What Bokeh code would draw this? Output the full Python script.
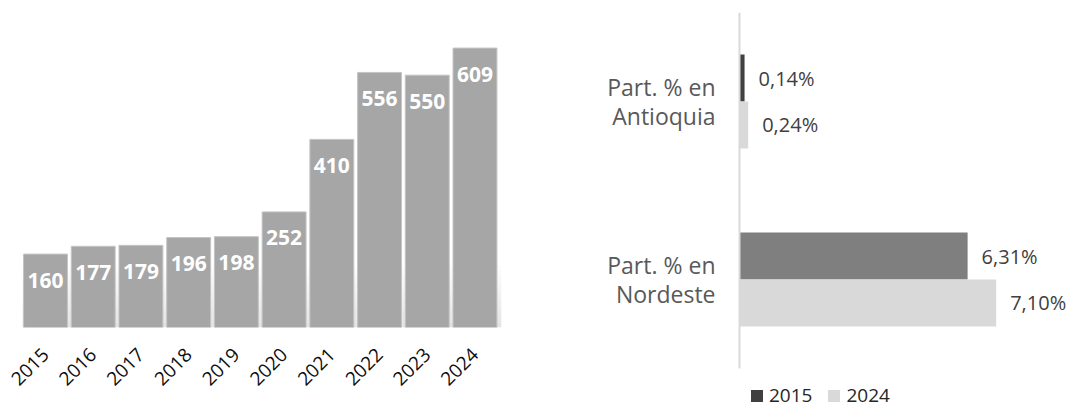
import math
from bokeh.plotting import figure
from bokeh.layouts import row
from bokeh.models import ColumnDataSource, FixedTicker, Range1d, Legend, LegendItem
from bokeh.core.properties import value
from bokeh.embed import file_html
from bokeh.resources import INLINE

# ---------------- data ----------------
years = ["2015", "2016", "2017", "2018", "2019", "2020", "2021", "2022", "2023", "2024"]
counts = [160, 177, 179, 196, 198, 252, 410, 556, 550, 609]

share_cats = ["Part. % en\nAntioquia", "Part. % en\nNordeste"]
share_2015 = [0.14, 6.31]
share_2024 = [0.24, 7.10]
series_names = ["2015", "2024"]

# ---------------- styles ----------------
FONT = "Open Sans"
BAR_GREY = "#a6a6a6"
colors_2015 = ["#404040", "#7f7f7f"]
color_2024 = "#d9d9d9"

# ================= left chart =================
W1, H1 = 560, 408
frame_h1 = 327
px_per_unit = 0.4588
y_end1 = frame_h1 / px_per_unit
bar_step = 47.72
first_center = 45
idx = list(range(len(years)))

p1 = figure(width=W1, height=H1, output_backend="svg", toolbar_location=None,
            x_range=Range1d(-first_center / bar_step, (W1 - first_center) / bar_step),
            y_range=Range1d(0, y_end1),
            min_border_left=0, min_border_right=0, min_border_top=0,
            min_border_bottom=H1 - frame_h1)
p1.frame_align = False
p1.outline_line_color = None
p1.grid.visible = False
p1.yaxis.visible = False

# soft shadow band at the base of the bars
n_strips = 12
band_top = 135
for k in range(n_strips):
    y0 = band_top * k / n_strips
    y1 = band_top * (k + 1) / n_strips
    a = 0.5 * (1 - k / n_strips)
    p1.quad(left=[idx[0] - 0.48], right=[idx[-1] + 0.55], bottom=[y0], top=[y1],
            fill_color="#c8c8c8", fill_alpha=a, line_color=None)

src1 = ColumnDataSource(dict(
    x=idx, y=counts,
    lab=[str(c) for c in counts],
    ly=[c - 26 / px_per_unit for c in counts],
))
p1.vbar(x="x", top="y", width=0.92, source=src1, fill_color=BAR_GREY,
        line_color="#c4c4c4", line_width=1)
p1.text(x="x", y="ly", text="lab", source=src1, text_color="white",
        text_font=value(FONT), text_font_style="bold", text_font_size="21px",
        text_align="center", text_baseline="middle")

ax = p1.xaxis[0]
ax.ticker = FixedTicker(ticks=idx)
ax.major_label_overrides = {i: y for i, y in zip(idx, years)}
ax.major_label_orientation = math.pi / 4
ax.axis_line_color = None
ax.major_tick_line_color = None
ax.minor_tick_line_color = None
ax.major_tick_out = 0
ax.major_label_standoff = 24
ax.major_label_text_font = FONT
ax.major_label_text_font_size = "19px"
ax.major_label_text_color = "#0d0d0d"

# ================= right chart =================
W2, H2 = 509, 408
top_border2 = 12
left_border2 = 177
frame_h2 = H2 - top_border2
frame_w2 = W2 - left_border2
band_px = 178
x_scale = 36.15
x_start2 = -2 / x_scale
n_cat = len(share_cats)
y_top2 = n_cat - 0.5
y_bot2 = y_top2 - frame_h2 / band_px

p2 = figure(width=W2, height=H2, output_backend="svg", toolbar_location=None,
            x_range=Range1d(x_start2, x_start2 + frame_w2 / x_scale),
            y_range=Range1d(y_bot2, y_top2),
            min_border_left=left_border2, min_border_right=0,
            min_border_top=top_border2, min_border_bottom=0)
p2.frame_align = False
p2.outline_line_color = None
p2.grid.visible = False
p2.xaxis.visible = False

ypos = [n_cat - 1 - i for i in range(n_cat)]
dodge = 0.132
bar_h = 0.264

def fmt(v):
    return f"{v:.2f}".replace(".", ",") + "%"

src_a = ColumnDataSource(dict(y=[v + dodge for v in ypos], v=share_2015,
                              c=colors_2015, lab=[fmt(v) for v in share_2015]))
src_b = ColumnDataSource(dict(y=[v - dodge for v in ypos], v=share_2024,
                              lab=[fmt(v) for v in share_2024]))

r_a = p2.hbar(y="y", left=0, right="v", height=bar_h, source=src_a,
              fill_color="c", line_color=None)
r_b = p2.hbar(y="y", left=0, right="v", height=bar_h, source=src_b,
              fill_color=color_2024, line_color=None)

for s in (src_a, src_b):
    p2.text(x="v", y="y", text="lab", source=s, x_offset=14,
            text_font=value(FONT), text_font_size="20px", text_color="#404040",
            text_align="left", text_baseline="middle")

# vertical category axis line
p2.segment(x0=[0], x1=[0], y0=[-0.5], y1=[n_cat - 0.5],
           line_color="#d9d9d9", line_width=2)

yax = p2.yaxis[0]
yax.ticker = FixedTicker(ticks=ypos)
yax.major_label_overrides = {y: c for y, c in zip(ypos, share_cats)}
yax.axis_line_color = None
yax.major_tick_line_color = None
yax.minor_tick_line_color = None
yax.major_tick_out = 0
yax.major_label_standoff = 22
yax.major_label_text_font = FONT
yax.major_label_text_font_size = "23px"
yax.major_label_text_line_height = 0.93
yax.major_label_text_color = "#595959"

legend = Legend(items=[LegendItem(label=series_names[0], renderers=[r_a], index=0),
                       LegendItem(label=series_names[1], renderers=[r_b], index=0)],
                orientation="horizontal", location=(12, 0))
legend.padding = 0
legend.margin = 0
legend.border_line_color = None
legend.background_fill_alpha = 0
legend.glyph_width = 15
legend.glyph_height = 15
legend.label_standoff = 5
legend.spacing = 14
legend.label_text_font = FONT
legend.label_text_font_size = "19px"
legend.label_text_color = "#262626"
p2.add_layout(legend)

layout = row(p1, p2)
open("out.html", "w").write(file_html(layout, INLINE))
